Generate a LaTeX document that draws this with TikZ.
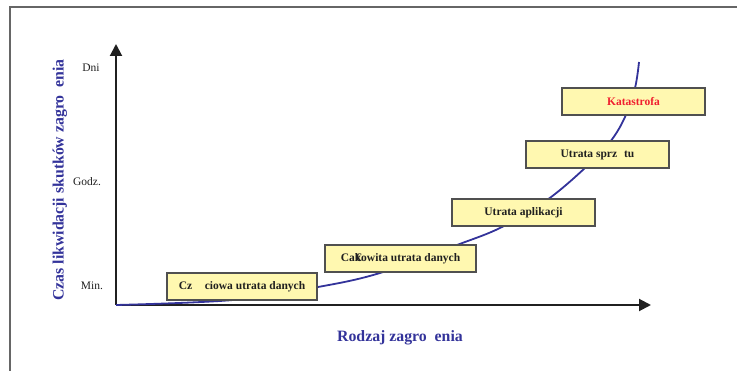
\documentclass[tikz,border=0pt]{standalone}
\usepackage{fontspec}
\setmainfont{Liberation Serif}
\usetikzlibrary{arrows.meta}
\definecolor{navy}{HTML}{33339A}
\definecolor{boxfill}{HTML}{FFF8B0}
\definecolor{boxline}{HTML}{505050}
\definecolor{alarm}{HTML}{F02030}
\definecolor{axis}{HTML}{202020}
\tikzset{
  stagebox/.style={draw=boxline, line width=1.2pt, fill=boxfill, minimum height=27pt, inner sep=0pt, font=\fontsize{11.5}{13}\selectfont\bfseries, text=axis},
  ticklab/.style={font=\fontsize{11.5}{13}\selectfont, text=axis},
  axistitle/.style={font=\fontsize{15.8}{18}\selectfont\bfseries, text=navy},
  axisline/.style={draw=axis, line width=2pt, -{Triangle[length=12pt,width=12pt]}},
}
\begin{document}
\begin{tikzpicture}[x=1pt,y=-1pt]
\useasboundingbox (0,0) rectangle (737,371);
% frame
\draw[gray!80!black, line width=1.3pt] (10,371) -- (10,7) -- (737,7);
% axes
\coordinate (O) at (116,305);
\coordinate (ytip) at (116,44);
\coordinate (xtip) at (651,305);
\draw[axisline] (O) -- (ytip);
\draw[axisline] (O) -- (xtip);
% curve
\draw[navy, line width=1.8pt] plot[smooth, tension=0.6] coordinates {
  (116,305) (233,300) (318,287) (380,273) (457,245) (502,227) (547,200)
  (585,168) (610,142) (625,117) (635,88) (639,62)};
% tick labels
\node[ticklab] (dni) at (91,68) {Dni};
\node[ticklab] (godz) at (87,182) {Godz.};
\node[ticklab] (min) at (92,286) {Min.};
% axis titles
\node[axistitle, rotate=90] (ytitle) at (60,180) {Czas likwidacji skutków zagro\hspace{0.5em}enia};
\node[axistitle] (xtitle) at (400,338) {Rodzaj zagro\hspace{0.5em}enia};
% stage boxes
\node[stagebox, minimum width=150pt] (b1) at (242,286.5) {Cz\hspace{1.1em}ciowa utrata danych};
\node[stagebox, minimum width=151pt] (b2) at (400.5,258.5) {Ca\makebox[0pt][l]{\hspace{0.1em}€}kowita utrata danych};
\node[stagebox, minimum width=143pt] (b3) at (523.5,212.5) {Utrata aplikacji};
\node[stagebox, minimum width=143pt] (b4) at (597.5,154.5) {Utrata sprz\hspace{0.6em}tu};
\node[stagebox, minimum width=143pt, text=alarm] (b5) at (633.5,101.5) {Katastrofa};
\end{tikzpicture}
\end{document}
